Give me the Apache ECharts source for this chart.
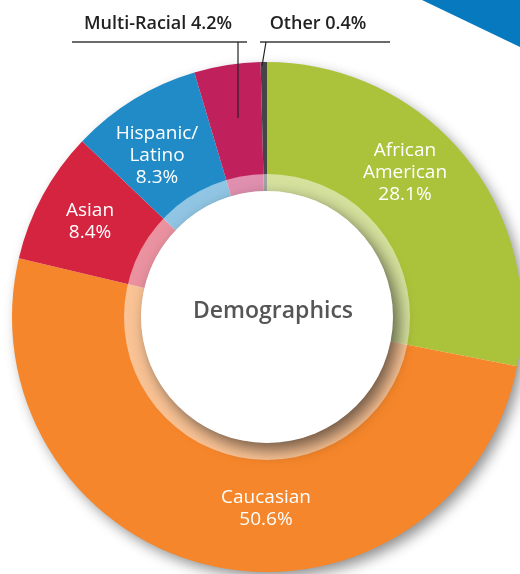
<!DOCTYPE html>
<html><head><meta charset="utf-8">
<script src="https://cdn.jsdelivr.net/npm/echarts@6/dist/echarts.min.js"></script>
<style>html,body{margin:0;padding:0;background:#fff}#c{width:520px;height:574px}</style>
</head><body><div id="c"></div>
<script>
// ---- data ----
const categories = ['African American', 'Caucasian', 'Asian', 'Hispanic/Latino', 'Multi-Racial', 'Other'];
const labelTexts = ['African\nAmerican', 'Caucasian', 'Asian', 'Hispanic/\nLatino', 'Multi-Racial', 'Other'];
const values = [28.1, 50.6, 8.4, 8.3, 4.2, 0.4];
const centerTitle = 'Demographics';

// ---- styles / layout ----
const colors = ['#abc23b', '#f5862b', '#d5243f', '#208bc6', '#c0215d', '#454545'];
const CX = 267, CY = 317, R_OUT = 255, R_IN = 126, R_RING = 143;
const FONT = '"Open Sans", Lato, sans-serif';
const insideLabelPos = [[405, 173], [266, 509], [90, 222], [157, 156], null, null];

const chart = echarts.init(document.getElementById('c'), null, {renderer: 'canvas'});
const fmt = v => v.toFixed(1) + '%';

const option = {
  animation: false,
  backgroundColor: '#fff',
  graphic: [
    {type: 'polygon', shape: {points: [[422, 0], [520, 0], [520, 47]]}, style: {fill: '#0679bf'}, z: 0},
    // Multi-Racial annotation
    {type: 'line', shape: {x1: 72, y1: 42, x2: 247, y2: 42}, style: {stroke: '#3a3a3a', lineWidth: 1.5}, z: 10},
    {type: 'line', shape: {x1: 238, y1: 42, x2: 238, y2: 118}, style: {stroke: '#222', lineWidth: 1.2}, z: 10},
    {type: 'text', x: 158, y: 24, style: {text: labelTexts[4] + ' ' + fmt(values[4]), fill: '#222', font: '600 18px ' + FONT, align: 'center', verticalAlign: 'middle'}, z: 10},
    // Other annotation
    {type: 'line', shape: {x1: 260, y1: 42, x2: 390, y2: 42}, style: {stroke: '#3a3a3a', lineWidth: 1.5}, z: 10},
    {type: 'line', shape: {x1: 266, y1: 42, x2: 262, y2: 66}, style: {stroke: '#222', lineWidth: 1.2}, z: 10},
    {type: 'text', x: 318, y: 24, style: {text: labelTexts[5] + ' ' + fmt(values[5]), fill: '#222', font: '600 18px ' + FONT, align: 'center', verticalAlign: 'middle'}, z: 10}
  ],
  series: [
    { // outer shadow
      type: 'pie', silent: true, z: 1, center: [CX, CY], radius: [0, R_OUT - 1],
      label: {show: false}, labelLine: {show: false},
      itemStyle: {color: '#fff', shadowBlur: 14, shadowColor: 'rgba(0,0,0,0.45)', shadowOffsetX: 5, shadowOffsetY: 6},
      data: [{value: 1}]
    },
    { // main donut
      type: 'pie', z: 2, center: [CX, CY], radius: [R_IN, R_OUT], startAngle: 90, clockwise: true,
      avoidLabelOverlap: false,
      itemStyle: {borderWidth: 0},
      label: {
        show: true, position: 'inside', color: '#fff', fontFamily: FONT, fontSize: 19, fontWeight: 500,
        lineHeight: 22, align: 'center',
        formatter: p => labelTexts[p.dataIndex] + '\n' + fmt(values[p.dataIndex])
      },
      labelLine: {show: false},
      labelLayout: p => {
        const pos = insideLabelPos[p.dataIndex];
        return pos ? {x: pos[0], y: pos[1], align: 'center', verticalAlign: 'middle'} : {};
      },
      data: categories.map((c, i) => ({
        name: c, value: values[i], itemStyle: {color: colors[i]},
        label: {show: insideLabelPos[i] !== null}
      }))
    },
    { // translucent ring
      type: 'pie', silent: true, z: 3, center: [CX, CY], radius: [R_IN, R_RING],
      label: {show: false}, labelLine: {show: false},
      itemStyle: {color: 'rgba(255,255,255,0.5)'},
      data: [{value: 1}]
    },
    { // center disc
      type: 'pie', silent: true, z: 4, center: [CX, CY], radius: [0, R_IN],
      label: {show: true, position: 'center', formatter: centerTitle, color: '#555', fontFamily: FONT, fontSize: 23, fontWeight: 600, offset: [6, -6]},
      labelLine: {show: false},
      itemStyle: {color: '#fff', shadowBlur: 16, shadowColor: 'rgba(0,0,0,0.55)', shadowOffsetX: 6, shadowOffsetY: 7},
      data: [{value: 1, name: centerTitle}]
    }
  ]
};
chart.setOption(option);
</script></body></html>
